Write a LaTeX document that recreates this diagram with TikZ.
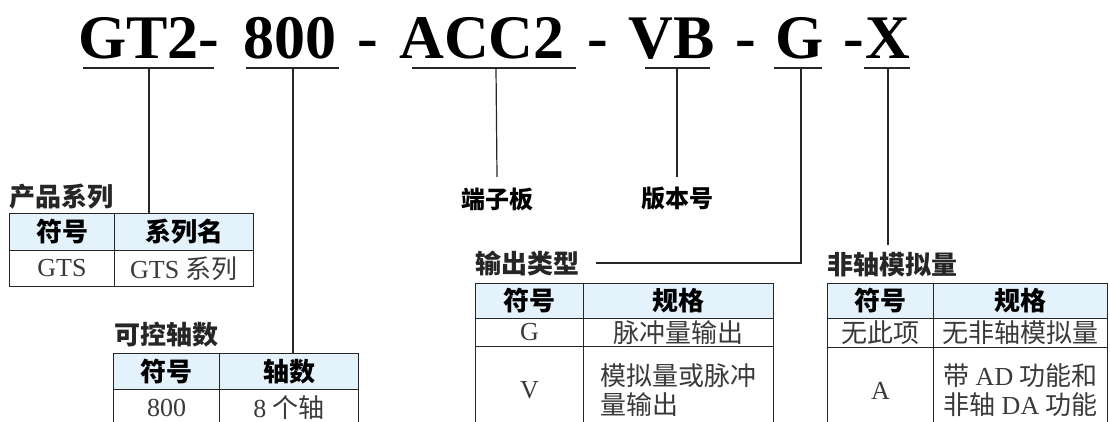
\documentclass[tikz,border=0pt]{standalone}
\usepackage{fontspec}
\setmainfont{Liberation Serif}
\newfontfamily\cjk{Noto Sans CJK SC}
\definecolor{hdrblue}{HTML}{E4F2FC}
\definecolor{txtgray}{HTML}{3A3A3A}
\definecolor{linegray}{HTML}{262626}
\begin{document}
\begin{tikzpicture}[x=1pt,y=-1pt,
  code/.style={font=\bfseries\fontsize{62}{62}\selectfont, inner sep=0pt, anchor=base},
  uline/.style={line width=1.4pt, linegray},
  conn/.style={line width=1.2pt, linegray},
  heading/.style={font=\cjk\bfseries\fontsize{26}{26}\selectfont, text=black!85, inner sep=0pt, minimum height=40pt, anchor=west},
  toplabel/.style={font=\cjk\bfseries\fontsize{24}{24}\selectfont, text=black, inner sep=0pt, minimum height=44pt},
  hcell/.style={draw=linegray, line width=1pt, fill=hdrblue, font=\cjk\bfseries\fontsize{26}{26}\selectfont, text=black, inner sep=0pt, anchor=north west},
  bcell/.style={draw=linegray, line width=1pt, fill=white, font=\fontsize{26}{29}\selectfont, text=txtgray, inner sep=0pt, anchor=north west, align=left}
]
\useasboundingbox (0,0) rectangle (1110,421);
\clip (0,0) rectangle (1110,421);
\fill[white] (0,0) rectangle (1110,421);

% ---- title code ----
\node[code] (c1) at (149,58) {GT2-};
\node[code] (c2) at (290,58) {800};
\node[code] (c3) at (368,58) {-};
\node[code] (c4) at (482,58) {ACC2};
\node[code] (c5) at (598,58) {-};
\node[code] (c6) at (672,58) {VB};
\node[code] (c7) at (746,58) {-};
\node[code] (c8) at (800,58) {G};
\node[code] (c9) at (854,58) {-};
\node[code] (c10) at (888,58) {X};

\draw[uline] (83,68) -- (214,68);
\draw[uline] (246,68) -- (339,68);
\draw[uline] (412,68) -- (576,68);
\draw[uline] (645,68) -- (710,68);
\draw[uline] (774,68) -- (822,68);
\draw[uline] (864,68) -- (910,68);

\coordinate (u1) at (149,68);
\coordinate (u2) at (293,68);
\coordinate (u3) at (496,68);
\coordinate (u4) at (677,68);
\coordinate (u5) at (801,68);
\coordinate (u6) at (888,68);

% ---- labels ----
\node[toplabel] (lab1) at (497,199) {端子板};
\node[toplabel] (lab2) at (677,199) {版本号};

% ---- table 1: product series ----
\node[heading] (h1) at (9,197) {产品系列};
\node[hcell, minimum width=105pt, minimum height=37pt] (t1h1) at (9,213) {符号};
\node[hcell, minimum width=139pt, minimum height=37pt] (t1h2) at (114,213) {系列名};
\node[bcell, minimum width=105pt, minimum height=36pt] (t1b1) at (9,250) {GTS};
\node[bcell, minimum width=139pt, minimum height=36pt] (t1b2) at (114,250) {GTS\ {\cjk\fontsize{26}{29}\selectfont 系列}};

% ---- table 2: axes ----
\node[heading] (h2) at (114,335) {可控轴数};
\node[hcell, minimum width=106pt, minimum height=36pt] (t2h1) at (113,353) {符号};
\node[hcell, minimum width=139pt, minimum height=36pt] (t2h2) at (219,353) {轴数};
\node[bcell, minimum width=106pt, minimum height=36pt] (t2b1) at (113,389) {800};
\node[bcell, minimum width=139pt, minimum height=36pt] (t2b2) at (219,389) {8\ {\cjk\fontsize{26}{29}\selectfont 个轴}};

% ---- table 3: output type ----
\node[heading] (h3) at (475,263) {输出类型};
\node[hcell, minimum width=108pt, minimum height=35pt] (t3h1) at (475,283) {符号};
\node[hcell, minimum width=190pt, minimum height=35pt] (t3h2) at (583,283) {规格};
\node[bcell, minimum width=108pt, minimum height=28pt] (t3a1) at (475,318) {G};
\node[bcell, minimum width=190pt, minimum height=28pt, font=\cjk\fontsize{26}{29}\selectfont] (t3a2) at (583,318) {脉冲量输出};
\node[bcell, minimum width=108pt, minimum height=88pt] (t3b1) at (475,346) {V};
\node[bcell, minimum width=190pt, minimum height=88pt, font=\cjk\fontsize{26}{29}\selectfont] (t3b2) at (583,346) {模拟量或脉冲\\量输出};

% ---- table 4: non-axis analog ----
\node[heading] (h4) at (827,265) {非轴模拟量};
\node[hcell, minimum width=106pt, minimum height=35pt] (t4h1) at (827,283) {符号};
\node[hcell, minimum width=174pt, minimum height=35pt] (t4h2) at (933,283) {规格};
\node[bcell, minimum width=106pt, minimum height=29pt, font=\cjk\fontsize{26}{29}\selectfont] (t4a1) at (827,318) {无此项};
\node[bcell, minimum width=174pt, minimum height=29pt, font=\cjk\fontsize{26}{29}\selectfont] (t4a2) at (933,318) {无非轴模拟量};
\node[bcell, minimum width=106pt, minimum height=86pt] (t4b1) at (827,347) {A};
\node[bcell, minimum width=174pt, minimum height=86pt, font=\cjk\fontsize{26}{29}\selectfont] (t4b2) at (933,347) {带 {\rmfamily\fontsize{26}{29}\selectfont AD} 功能和\\非轴 {\rmfamily\fontsize{26}{29}\selectfont DA} 功能};

% ---- connectors ----
\draw[conn] (u1) -- (u1 |- t1h1.north);
\draw[conn] (u2) -- (u2 |- t2h1.north);
\draw[conn] (u3) -- (lab1.north);
\draw[conn] (u4) -- (lab2.north);
\draw[conn] (u5) |- ([xshift=17pt]h3.east);
\draw[conn] (u6) -- (u6 |- h4.north);
\end{tikzpicture}
\end{document}
